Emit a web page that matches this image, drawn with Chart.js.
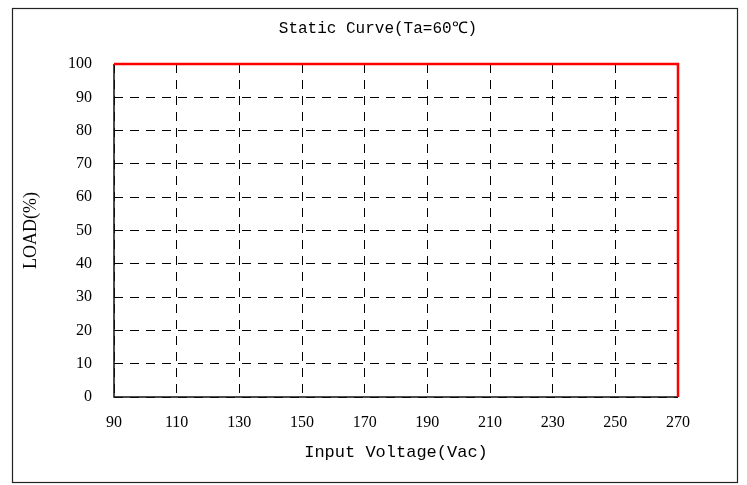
<!DOCTYPE html>
<html>
<head>
<meta charset="utf-8">
<script src="https://cdn.jsdelivr.net/npm/chart.js@4"></script>
<style>
  html, body { margin: 0; padding: 0; background: #fff; }
  #wrap { width: 747px; height: 485px; }
</style>
</head>
<body>
<div id="wrap"><canvas id="staticCurve" width="747" height="485"></canvas></div>
<script>
// curve points: input voltage (Vac) vs load (%)
const voltage = [90, 270, 270];
const load = [100, 100, 0];

const xTicks = [90, 110, 130, 150, 170, 190, 210, 230, 250, 270];
const yTicks = [0, 10, 20, 30, 40, 50, 60, 70, 80, 90, 100];

const chartTitle = "Static Curve(Ta=60\u2103)";

const points = voltage.map((v, i) => ({ x: v, y: load[i] }));

const serif = "'Liberation Serif', 'DejaVu Serif', serif";
const mono = "'Liberation Mono', 'DejaVu Sans Mono', monospace";

// solid axis lines under the curve (grid lines stay dashed)
const axisPlugin = {
  id: "axisLines",
  beforeDatasetsDraw(chart) {
    const { ctx, chartArea } = chart;
    ctx.save();
    ctx.strokeStyle = "#111";
    ctx.lineWidth = 1.5;
    ctx.setLineDash([]);
    ctx.beginPath();
    ctx.moveTo(chartArea.left, chartArea.top);
    ctx.lineTo(chartArea.left, chartArea.bottom);
    ctx.lineTo(chartArea.right, chartArea.bottom);
    ctx.stroke();
    ctx.restore();
  }
};

// title centred on the page + frame around the whole picture
const framePlugin = {
  id: "frame",
  afterDraw(chart) {
    const ctx = chart.ctx;
    ctx.save();
    ctx.fillStyle = "#000";
    ctx.font = "16px " + mono;
    ctx.textAlign = "center";
    ctx.textBaseline = "middle";
    ctx.fillText(chartTitle, 378, 29);

    ctx.strokeStyle = "#222";
    ctx.lineWidth = 1.2;
    ctx.strokeRect(12.5, 8.5, 725, 474);
    ctx.restore();
  }
};

new Chart(document.getElementById("staticCurve").getContext("2d"), {
  type: "scatter",
  data: {
    datasets: [{
      data: points,
      showLine: true,
      borderColor: "#ff0000",
      borderWidth: 2.5,
      pointRadius: 0,
      fill: false,
      clip: false
    }]
  },
  options: {
    responsive: false,
    animation: false,
    layout: { padding: { left: 0, right: 69, top: 64, bottom: 0 } },
    plugins: {
      legend: { display: false },
      tooltip: { enabled: false },
      title: { display: false }
    },
    scales: {
      x: {
        type: "linear",
        min: 90,
        max: 270,
        afterBuildTicks(scale) { scale.ticks = xTicks.map(v => ({ value: v })); },
        afterFit(scale) { scale.height = 88; },
        ticks: { color: "#000", padding: 16, font: { family: serif, size: 16 } },
        grid: { color: "#000", lineWidth: 1, drawTicks: false },
        border: { display: false, dash: [9, 7] },
        title: {
          display: true,
          text: "Input Voltage(Vac)",
          color: "#000",
          font: { family: mono, size: 17 },
          padding: { top: 0, bottom: 22 }
        }
      },
      y: {
        type: "linear",
        min: 0,
        max: 100,
        afterBuildTicks(scale) { scale.ticks = yTicks.map(v => ({ value: v })); },
        afterFit(scale) { scale.width = 114; },
        ticks: { color: "#000", padding: 22, font: { family: serif, size: 16 } },
        grid: { color: "#000", lineWidth: 1, drawTicks: false },
        border: { display: false, dash: [9, 7] },
        title: {
          display: true,
          text: "LOAD(%)",
          color: "#000",
          font: { family: serif, size: 18 },
          padding: { top: 20, bottom: 0 }
        }
      }
    }
  },
  plugins: [axisPlugin, framePlugin]
});
</script>
</body>
</html>
